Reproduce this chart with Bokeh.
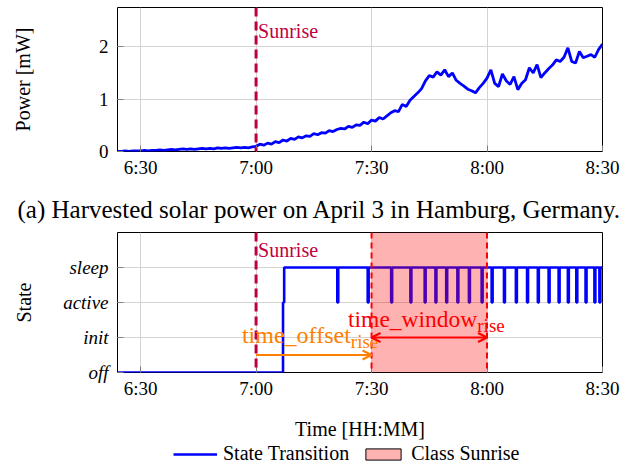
from bokeh.plotting import figure
from bokeh.models import (FixedTicker, Range1d, Label, Arrow, OpenHead, LinearAxis,
                          BoxAnnotation, Span, Legend, LegendItem)
from bokeh.layouts import column
from bokeh.embed import file_html
from bokeh.resources import INLINE

FONT = "Liberation Serif"

# ---------------- data ----------------
minutes = list(range(384, 511))  # minutes after midnight, 6:24 .. 8:30
power_mw = [
    0.00, 0.00, 0.01, 0.00, 0.01, 0.01, 0.01, 0.02, 0.01, 0.02,   # 384-393
    0.02, 0.03, 0.02, 0.03, 0.04, 0.03, 0.04, 0.05, 0.04, 0.05,   # 394-403
    0.04, 0.05, 0.06, 0.05, 0.06, 0.05, 0.07, 0.06, 0.07, 0.06,   # 404-413
    0.07, 0.08, 0.07, 0.08, 0.07, 0.09, 0.10, 0.14, 0.12, 0.16,   # 414-423
    0.14, 0.19, 0.17, 0.22, 0.20, 0.25, 0.23, 0.28, 0.26, 0.30,   # 424-433
    0.29, 0.34, 0.32, 0.36, 0.35, 0.40, 0.38, 0.42, 0.44, 0.43,   # 434-443
    0.48, 0.46, 0.51, 0.50, 0.56, 0.53, 0.60, 0.58, 0.65, 0.62,   # 444-453
    0.68, 0.74, 0.78, 0.76, 0.90, 0.86, 0.98, 1.05, 1.12, 1.20,   # 454-463
    1.35, 1.45, 1.42, 1.52, 1.46, 1.56, 1.43, 1.50, 1.36, 1.30,   # 464-473
    1.25, 1.19, 1.16, 1.12, 1.22, 1.30, 1.40, 1.56, 1.30, 1.24,   # 474-483
    1.48, 1.35, 1.28, 1.43, 1.18, 1.30, 1.37, 1.60, 1.50, 1.66,   # 484-493
    1.41, 1.50, 1.58, 1.65, 1.75, 1.72, 1.80, 1.98, 1.72, 1.69,   # 494-503
    1.91, 1.79, 1.82, 1.85, 1.80, 1.95, 2.05,                     # 504-510
]

x_ticks = [390, 420, 450, 480, 510]
x_tick_labels = ["6:30", "7:00", "7:30", "8:00", "8:30"]
power_ticks = [0, 1, 2]
state_levels = [0, 1, 2, 3]
state_labels = ["off", "init", "active", "sleep"]

sunrise = 420
class_start = 450
class_end = 480
x_start, x_end = 384, 510

wake_time = 427.0
sleep_time = 427.3
pulse_times = [441.1, 449.0, 455.1, 460.1, 463.8, 466.6, 469.4, 472.3, 475.3,
               478.6, 481.2, 484.4, 487.5, 490.4, 493.2, 496.0, 498.6, 501.0,
               503.2, 505.6, 507.9, 509.2]
pulse_len = 0.25

caption = "(a) Harvested solar power on April 3 in Hamburg, Germany."

# state step trace built from the event lists
st_x = [x_start, wake_time, wake_time, sleep_time, sleep_time]
st_y = [0, 0, 2, 2, 3]
for t in pulse_times:
    st_x += [t, t, t + pulse_len, t + pulse_len]
    st_y += [3, 2, 2, 3]
st_x.append(x_end)
st_y.append(3)

SUN_C = "#bf0040"
ORANGE = "#ff8000"
RED = "#ff0000"
BLUE = "#0000ff"
GRID = "#d3d3d3"
TICK = "#7f7f7f"

W = 627
ML, MR = 117, 25
FRAME_W = W - ML - MR


def style(p, yticks, ylabels=None, italic=False):
    p.outline_line_color = "black"
    p.outline_line_width = 1
    p.outline_line_alpha = 1
    p.background_fill_color = "white"
    p.border_fill_color = "white"
    p.xgrid.ticker = FixedTicker(ticks=x_ticks)
    p.ygrid.ticker = FixedTicker(ticks=yticks)
    for g in (p.xgrid[0], p.ygrid[0]):
        g.grid_line_color = GRID
        g.grid_line_width = 1
    xa = p.xaxis[0]
    xa.ticker = FixedTicker(ticks=x_ticks)
    xa.major_label_overrides = dict(zip(x_ticks, x_tick_labels))
    ya = p.yaxis[0]
    ya.ticker = FixedTicker(ticks=yticks)
    if ylabels:
        ya.major_label_overrides = dict(zip(yticks, ylabels))
    for ax in (xa, ya):
        ax.axis_line_color = None
        ax.major_tick_in = 6
        ax.major_tick_out = 0
        ax.major_tick_line_color = TICK
        ax.minor_tick_line_color = None
        ax.major_label_text_font = FONT
        ax.major_label_text_font_size = "19px"
        ax.major_label_text_color = "black"
        ax.axis_label_text_font = FONT
        ax.axis_label_text_font_size = "20px"
        ax.axis_label_text_font_style = "normal"
        ax.axis_label_text_color = "black"
    ya.major_label_standoff = 9
    xa.major_label_standoff = 5
    if italic:
        ya.major_label_text_font_style = "italic"


def lab(p, x, y, text, color, size, align="left", xoff=0):
    p.add_layout(Label(x=x, y=y, x_offset=xoff, text=text, text_color=color,
                       text_font=FONT, text_font_size=size, text_align=align,
                       text_baseline="middle"))


# ---------------- top: power ----------------
p1 = figure(width=W, height=180, x_range=Range1d(x_start, x_end),
            y_range=Range1d(0, 2.75), output_backend="svg", toolbar_location=None,
            min_border_left=ML, min_border_right=MR, min_border_top=7,
            min_border_bottom=28)
style(p1, power_ticks)
p1.yaxis[0].axis_label = "Power [mW]"
p1.yaxis[0].axis_label_standoff = 62

p1.line(minutes, power_mw, line_color=BLUE, line_width=2.8)
p1.add_layout(Span(location=sunrise, dimension="height", line_color=SUN_C,
                   line_width=3, line_dash="9 5"))
lab(p1, sunrise, 2.30, "Sunrise", SUN_C, "20px", xoff=2)

# ---------------- bottom: state ----------------
p2 = figure(width=W, height=262, x_range=Range1d(x_start, x_end),
            y_range=Range1d(0, 4), output_backend="svg", toolbar_location=None,
            min_border_left=ML, min_border_right=MR, min_border_top=52,
            min_border_bottom=66)
style(p2, state_levels, state_labels, italic=True)
p2.yaxis[0].axis_label = "State"
p2.yaxis[0].axis_label_standoff = 25
p2.xaxis[0].axis_label = "Time [HH:MM]"
p2.xaxis[0].axis_label_standoff = 16

# caption of sub-figure (a), drawn as the single label of an axis above this plot
caption_x = x_start + (319 - ML) * (x_end - x_start) / FRAME_W
cax = LinearAxis(ticker=FixedTicker(ticks=[caption_x]),
                 major_label_overrides={caption_x: caption},
                 axis_line_color=None, major_tick_line_color=None,
                 minor_tick_line_color=None, major_tick_in=0, major_tick_out=0,
                 major_label_standoff=10, major_label_text_font=FONT,
                 major_label_text_font_size="25px", major_label_text_color="black")
p2.add_layout(cax, "above")

p2.line(st_x, st_y, line_color=BLUE, line_width=2.6)
p2.add_layout(BoxAnnotation(left=class_start, right=class_end, fill_color=RED,
                            fill_alpha=0.3, line_color=None))
for loc in (class_start, class_end):
    p2.add_layout(Span(location=loc, dimension="height", line_color=RED,
                       line_width=2, line_dash="6 4"))
p2.add_layout(Span(location=sunrise, dimension="height", line_color=SUN_C,
                   line_width=3, line_dash="9 5"))
lab(p2, sunrise, 3.5, "Sunrise", SUN_C, "20px", xoff=2)

# offset arrow
p2.add_layout(Arrow(x_start=sunrise, x_end=class_start, y_start=0.5, y_end=0.5,
                    line_color=ORANGE, line_width=2,
                    end=OpenHead(size=9, line_color=ORANGE, line_width=2)))
mid_off = (sunrise + class_start) / 2
lab(p2, mid_off, 1.06, "time_offset", ORANGE, "24px", align="right", xoff=37)
lab(p2, mid_off, 0.90, "rise", ORANGE, "19px", align="left", xoff=37)

# window arrow
p2.add_layout(Arrow(x_start=class_start, x_end=class_end, y_start=1.0, y_end=1.0,
                    line_color=RED, line_width=2,
                    start=OpenHead(size=9, line_color=RED, line_width=2),
                    end=OpenHead(size=9, line_color=RED, line_width=2)))
mid_win = (class_start + class_end) / 2
lab(p2, mid_win, 1.52, "time_window", RED, "23.5px", align="right", xoff=48)
lab(p2, mid_win, 1.34, "rise", RED, "19px", align="left", xoff=48)

# ---------------- legend strip ----------------
p3 = figure(width=W, height=26, x_range=Range1d(0, 1), y_range=Range1d(0, 1),
            output_backend="svg", toolbar_location=None,
            min_border_left=ML, min_border_right=MR, min_border_top=0,
            min_border_bottom=0)
p3.grid.visible = False
p3.axis.visible = False
p3.outline_line_color = None
p3.background_fill_color = "white"
p3.border_fill_color = "white"
# legend proxies: same data as the chart, lying outside this strip's ranges
lg_line = p3.line(x=st_x, y=st_y, line_color=BLUE, line_width=2.5)
lg_box = p3.quad(left=[class_start], right=[class_end], top=[4], bottom=[0],
                 fill_color=RED, fill_alpha=0.3, line_color="black", line_width=1)
legend = Legend(items=[LegendItem(label="State Transition", renderers=[lg_line]),
                       LegendItem(label="Class Sunrise", renderers=[lg_box])],
                orientation="horizontal", location=(56, 3),
                label_text_font=FONT, label_text_font_size="20px",
                label_text_color="black",
                glyph_width=44, glyph_height=14, label_standoff=6, spacing=12,
                padding=0, margin=0, border_line_color=None,
                background_fill_alpha=0)
p3.add_layout(legend, "center")

layout = column(p1, p2, p3, spacing=0)
open("out.html", "w").write(file_html(layout, INLINE))
